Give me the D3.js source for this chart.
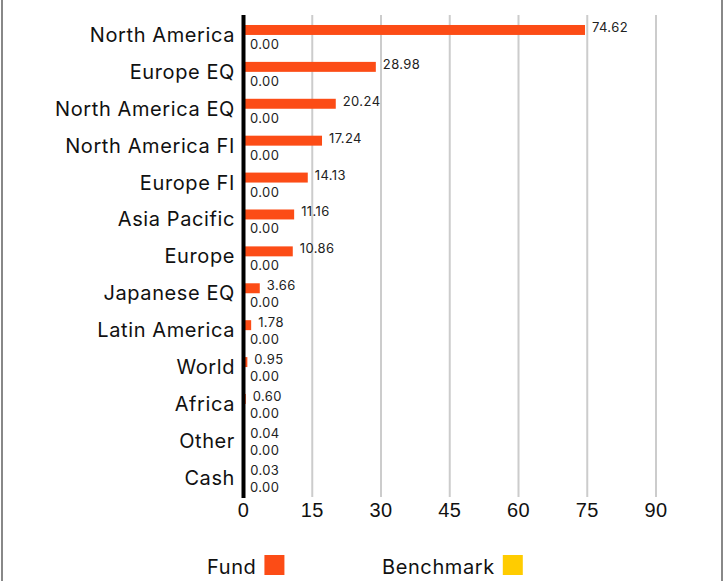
<!DOCTYPE html>
<html>
<head>
<meta charset="utf-8">
<script src="https://cdn.jsdelivr.net/npm/d3@7"></script>
<style>
  body { margin: 0; background: #fff; }
  svg { display: block; font-family: Inter, "Open Sans", sans-serif; }
</style>
</head>
<body>
<svg id="chart" width="724" height="581"></svg>
<script>
const categories = ['North America', 'Europe EQ', 'North America EQ', 'North America FI', 'Europe FI',
  'Asia Pacific', 'Europe', 'Japanese EQ', 'Latin America', 'World', 'Africa', 'Other', 'Cash'];
const fundValues = [74.62, 28.98, 20.24, 17.24, 14.13, 11.16, 10.86, 3.66, 1.78, 0.95, 0.60, 0.04, 0.03];
const benchmarkValues = [0, 0, 0, 0, 0, 0, 0, 0, 0, 0, 0, 0, 0];
const tickValues = [0, 15, 30, 45, 60, 75, 90];
const seriesNames = ['Fund', 'Benchmark'];
const seriesColors = ['#fc4c16', '#ffcc00'];

const svg = d3.select('#chart');
const plotTop = 15, plotBottom = 497;

const x = d3.scaleLinear().domain([0, 90]).range([243, 655.5]);
const y = d3.scaleBand().domain(categories).range([16.5, 496.2])
  .paddingInner(0.46).paddingOuter(0.23);
const bw = y.bandwidth() / 2;

// border lines left/right
svg.append('line').attr('x1', 2).attr('x2', 2).attr('y1', 0).attr('y2', 581)
  .attr('stroke', '#888').attr('stroke-width', 2);
svg.append('line').attr('x1', 722).attr('x2', 722).attr('y1', 0).attr('y2', 581)
  .attr('stroke', '#888').attr('stroke-width', 2);

// grid + ticks
const xAxis = svg.append('g')
  .attr('transform', 'translate(0,' + plotBottom + ')')
  .call(d3.axisBottom(x).tickValues(tickValues).tickSize(-(plotBottom - plotTop)).tickPadding(6).tickFormat(d3.format('d')));
xAxis.select('.domain').remove();
xAxis.selectAll('line').attr('stroke', '#cccccc').attr('stroke-width', 2);
xAxis.selectAll('text').attr('font-size', 20).attr('fill', '#111').attr('letter-spacing', 0.5);

const rows = categories.map((c, i) => ({cat: c, fund: fundValues[i], bench: benchmarkValues[i]}));

// fund bars
svg.append('g').selectAll('rect').data(rows).join('rect')
  .attr('x', x(0))
  .attr('y', d => y(d.cat))
  .attr('width', d => x(d.fund) - x(0))
  .attr('height', bw)
  .attr('fill', seriesColors[0]);

// benchmark bars
svg.append('g').selectAll('rect').data(rows).join('rect')
  .attr('x', x(0))
  .attr('y', d => y(d.cat) + bw)
  .attr('width', d => x(d.bench) - x(0))
  .attr('height', bw)
  .attr('fill', seriesColors[1]);

// value labels
svg.append('g').selectAll('text').data(rows).join('text')
  .attr('x', d => x(d.fund) + 7)
  .attr('y', d => y(d.cat) + 7)
  .attr('font-size', 13).attr('fill', '#222').attr('letter-spacing', 0.4)
  .text(d => d.fund.toFixed(2));
svg.append('g').selectAll('text').data(rows).join('text')
  .attr('x', d => x(d.bench) + 7)
  .attr('y', d => y(d.cat) + bw + 14)
  .attr('font-size', 13).attr('fill', '#222').attr('letter-spacing', 0.4)
  .text(d => d.bench.toFixed(2));

// zero axis line
svg.append('line').attr('x1', 243.5).attr('x2', 243.5).attr('y1', plotTop).attr('y2', plotBottom + 1)
  .attr('stroke', '#000').attr('stroke-width', 4);

// category labels
svg.append('g').selectAll('text').data(categories).join('text')
  .attr('x', 235)
  .attr('y', d => y(d) + y.bandwidth() / 2)
  .attr('dy', '0.35em')
  .attr('text-anchor', 'end')
  .attr('font-size', 20).attr('fill', '#111').attr('letter-spacing', 0.6)
  .text(d => d);

// legend
const legendX = [207, 382];
const lg = svg.append('g').selectAll('g').data(seriesNames).join('g')
  .attr('transform', (d, i) => 'translate(' + legendX[i] + ',0)');
lg.append('text').attr('x', 0).attr('y', 574).attr('font-size', 20).attr('fill', '#111')
  .attr('letter-spacing', 0.6).text(d => d);
lg.each(function(d, i) {
  const g = d3.select(this);
  const w = g.select('text').node().getComputedTextLength();
  g.append('rect').attr('x', w + 8).attr('y', 555).attr('width', 20).attr('height', 20)
    .attr('fill', seriesColors[i]);
});
</script>
</body>
</html>
